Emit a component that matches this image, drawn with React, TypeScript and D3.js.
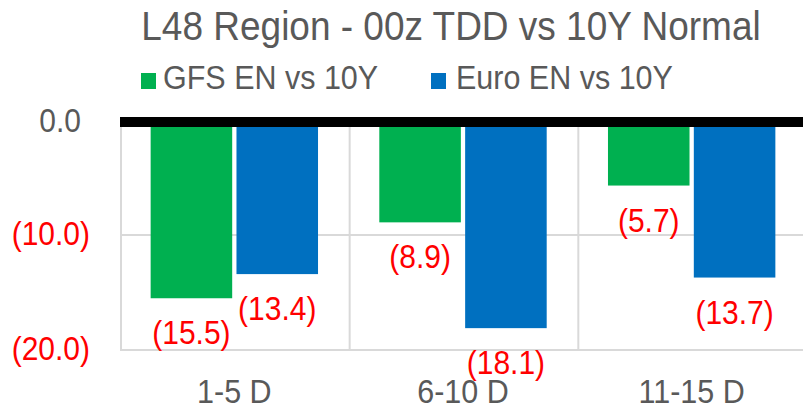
import React from 'react';
import * as d3 from 'd3';

const categories = ['1-5 D', '6-10 D', '11-15 D'];
const seriesNames = ['GFS EN vs 10Y', 'Euro EN vs 10Y'];
const gfsValues = [-15.5, -8.9, -5.7];
const euroValues = [-13.4, -18.1, -13.7];
const yTicks = [0, -10, -20];
const seriesColors = ['#00B050', '#0070C0'];

const WIDTH = 803;
const HEIGHT = 408;
const FONT = '"Liberation Sans", Arial, sans-serif';
const GREY = '#595959';
const RED = '#FF0000';
const STRETCH = 1.1; // Excel text renders a little taller than Arial

const fmt = d3.format('.1f');
const excelNum = (v: number) => (v < 0 ? `(${fmt(-v)})` : fmt(v));

// text with a small vertical stretch
const T: React.FC<{
  x: number;
  y: number;
  size: number;
  fill: string;
  anchor?: string;
  children: React.ReactNode;
}> = ({ x, y, size, fill, anchor = 'middle', children }) => (
  <text
    transform={`translate(${x},${y}) scale(1,${STRETCH})`}
    fontSize={size}
    fill={fill}
    textAnchor={anchor}
    fontFamily={FONT}
  >
    {children}
  </text>
);

const App: React.FC = () => {
  const plotLeft = 120;
  const plotRight = 806;

  const y = d3.scaleLinear().domain([0, -20]).range([120, 350]);
  const x0 = d3.scaleBand<string>().domain(categories).range([plotLeft, plotRight]);
  const bw = x0.bandwidth();
  const x1 = d3
    .scaleBand<number>()
    .domain([0, 1])
    .range([bw * 0.134, bw * 0.866])
    .paddingInner(0.05);

  const series = [gfsValues, euroValues];

  return (
    <svg
      width={WIDTH}
      height={HEIGHT}
      style={{ position: 'absolute', left: 0, top: 0, background: '#fff' }}
    >
      {/* Title */}
      <T x={451} y={40} size={37} fill={GREY}>
        L48 Region - 00z TDD vs 10Y Normal
      </T>

      {/* Legend */}
      <rect x={141} y={73} width={15} height={16} fill={seriesColors[0]} />
      <T x={163} y={89} size={30.5} fill={GREY} anchor="start">
        {seriesNames[0]}
      </T>
      <rect x={431} y={73} width={15} height={16} fill={seriesColors[1]} />
      <T x={456} y={89} size={30.5} fill={GREY} anchor="start">
        {seriesNames[1]}
      </T>

      {/* Gridlines */}
      {yTicks
        .filter((t) => t !== 0)
        .map((t) => (
          <line
            key={`h${t}`}
            x1={plotLeft}
            x2={WIDTH}
            y1={y(t)}
            y2={y(t)}
            stroke="#D9D9D9"
            strokeWidth={2}
          />
        ))}
      {categories.map((c) => (
        <line
          key={`v${c}`}
          x1={(x0(c) as number) + 1}
          x2={(x0(c) as number) + 1}
          y1={y(0)}
          y2={y(-20)}
          stroke="#D9D9D9"
          strokeWidth={2}
        />
      ))}

      {/* Bars */}
      {categories.map((c, ci) =>
        series.map((vals, si) => {
          const v = vals[ci];
          const bx = (x0(c) as number) + (x1(si) as number);
          return (
            <rect
              key={`${c}-${si}`}
              x={bx}
              y={y(0)}
              width={x1.bandwidth()}
              height={y(v) - y(0)}
              fill={seriesColors[si]}
            />
          );
        })
      )}

      {/* Zero axis */}
      <rect x={plotLeft} y={y(0) - 3} width={WIDTH - plotLeft} height={10} fill="#000" />

      {/* Y tick labels */}
      {yTicks.map((t) => (
        <T
          key={`yt${t}`}
          x={t < 0 ? 90 : 81}
          y={y(t) + (t < 0 ? 10 : 12)}
          size={30}
          fill={t < 0 ? RED : GREY}
          anchor="end"
        >
          {excelNum(t)}
        </T>
      ))}

      {/* Data labels */}
      {categories.map((c, ci) =>
        series.map((vals, si) => {
          const v = vals[ci];
          const cx = (x0(c) as number) + (x1(si) as number) + x1.bandwidth() / 2;
          return (
            <T key={`dl${c}-${si}`} x={cx} y={y(v) + 46} size={30} fill={RED}>
              {excelNum(v)}
            </T>
          );
        })
      )}

      {/* X labels */}
      {categories.map((c) => (
        <T
          key={`xl${c}`}
          x={(x0(c) as number) + bw / 2}
          y={403}
          size={30.5}
          fill={GREY}
        >
          {c}
        </T>
      ))}
    </svg>
  );
};

export default App;
